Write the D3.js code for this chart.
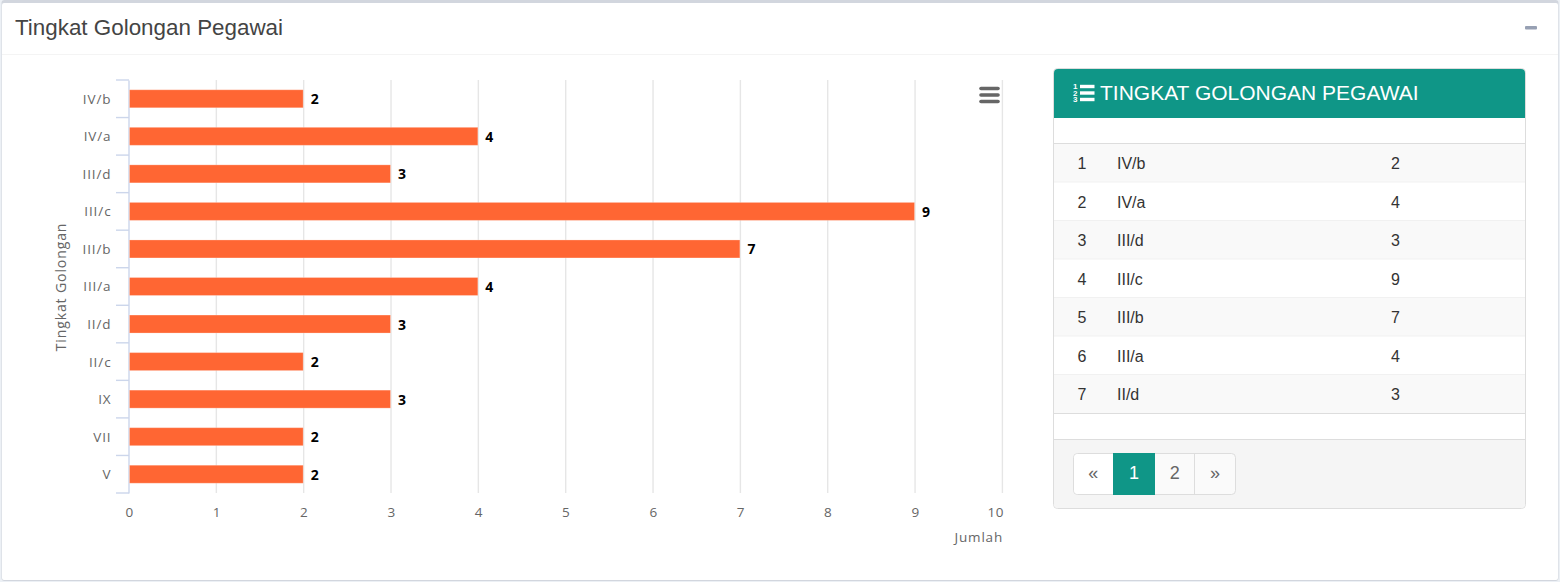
<!DOCTYPE html>
<html><head><meta charset="utf-8">
<script src="https://cdn.jsdelivr.net/npm/d3@7/dist/d3.min.js"></script>
<style>
html,body{margin:0;padding:0;background:#ecf0f5;overflow:hidden}
svg{display:block}
.ch{font-family:"Open Sans",sans-serif}
.ui{font-family:"Liberation Sans",Arial,sans-serif}
</style></head><body>
<svg id="c" width="1560" height="582"></svg>
<script>
const categories=["IV/b","IV/a","III/d","III/c","III/b","III/a","II/d","II/c","IX","VII","V"];
const values=[2,4,3,9,7,4,3,2,3,2,2];
const xTicks=[0,1,2,3,4,5,6,7,8,9,10];
const tableRowCount=7;
const pageLabels=["«","1","2","»"];
const panelTitle="Tingkat Golongan Pegawai";
const tableTitle="TINGKAT GOLONGAN PEGAWAI";
const xAxisTitle="Jumlah", yAxisTitle="Tingkat Golongan";

const svg=d3.select("#c");
// outer box
svg.append("rect").attr("x",0).attr("y",0).attr("width",1560).attr("height",582).attr("fill","#ecf0f5");
svg.append("rect").attr("x",1.5).attr("y",0).attr("width",1557).attr("height",581).attr("rx",3).attr("fill","#d2d6de");
svg.append("rect").attr("x",2).attr("y",3).attr("width",1556).attr("height",577).attr("rx",2).attr("fill","#fff");
svg.append("line").attr("x1",2).attr("x2",1558).attr("y1",54.5).attr("y2",54.5).attr("stroke","#f4f4f4");
svg.append("text").attr("class","ui").attr("x",15).attr("y",35).attr("font-size",22.4).attr("fill","#444").text(panelTitle);
svg.append("rect").attr("x",1525).attr("y",26).attr("width",12).attr("height",3.5).attr("rx",1).attr("fill","#97a0b3");

// chart
const x=d3.scaleLinear().domain([0,10]).range([129,1002.4]);
const y=d3.scaleBand().domain(categories).range([80,493]);
const g=svg.append("g").attr("class","ch");
g.append("g").selectAll("line").data(xTicks.slice(1)).join("line")
 .attr("x1",d=>x(d)).attr("x2",d=>x(d)).attr("y1",80).attr("y2",493).attr("stroke","#e6e6e6").attr("stroke-width",1.4);
const yAxis=d3.axisLeft(y).tickSize(0).tickPadding(17);
const ya=g.append("g").attr("transform","translate(128.5,0.6)").call(yAxis);
ya.select(".domain").attr("stroke","#ccd6eb").attr("stroke-width",1.4).attr("transform","translate(0,-0.6)");
ya.selectAll("text").attr("font-size",13.5).attr("letter-spacing",.9).attr("fill","#666").attr("font-family","Open Sans");
g.append("g").selectAll("line").data(d3.range(categories.length+1)).join("line")
 .attr("x1",116).attr("x2",129).attr("y1",i=>80+i*y.step()).attr("y2",i=>80+i*y.step()).attr("stroke","#ccd6eb").attr("stroke-width",1.4);
const xa=g.append("g").attr("transform","translate(0,493)").call(d3.axisBottom(x).tickValues(xTicks).tickFormat(d3.format("d")).tickSize(0).tickPadding(14));
xa.select(".domain").remove();
xa.selectAll("text").attr("font-size",13.5).attr("fill","#666").attr("font-family","Open Sans").attr("letter-spacing",.5)
 .attr("text-anchor",d=>d===10?"end":"middle").attr("dx",d=>d===10?1:0);
const barH=18;
g.append("g").selectAll("rect").data(values).join("rect")
 .attr("x",x(0)+.5).attr("width",d=>x(d)-x(0)-1)
 .attr("y",(d,i)=>y(categories[i])+y.bandwidth()/2-barH/2).attr("height",barH)
 .attr("fill","#ff6633").attr("stroke","#fff").attr("stroke-opacity",.25);
g.append("g").selectAll("text").data(values).join("text")
 .attr("x",d=>x(d)+7).attr("y",(d,i)=>y(categories[i])+y.bandwidth()/2+5.5)
 .attr("font-size",14).attr("font-weight","bold").attr("fill","#000").text(d=>d);
g.append("text").attr("x",1003).attr("y",542).attr("text-anchor","end").attr("font-size",13.5).attr("letter-spacing",.8).attr("fill","#666").text(xAxisTitle);
g.append("text").attr("transform","translate(66,287) rotate(-90)").attr("text-anchor","middle").attr("font-size",14).attr("letter-spacing",.9).attr("fill","#666").text(yAxisTitle);
// hamburger
g.append("g").selectAll("line").data([0,1,2]).join("line")
 .attr("x1",981).attr("x2",998).attr("y1",i=>88.5+i*6.5).attr("y2",i=>88.5+i*6.5)
 .attr("stroke","#666").attr("stroke-width",3.6).attr("stroke-linecap","round");

// table panel
const t=svg.append("g").attr("class","ui");
t.append("rect").attr("x",1053.5).attr("y",68.5).attr("width",472).attr("height",440).attr("rx",4).attr("fill","#fff").attr("stroke","#ddd");
t.append("path").attr("d","M1054 118V73a4 4 0 0 1 4-4H1521a4 4 0 0 1 4 4V118Z").attr("fill","#0f9687");
const iconY=[86.5,93,99.5];
t.append("g").selectAll("rect").data(iconY).join("rect").attr("x",1080).attr("y",d=>d-1.7).attr("width",14.5).attr("height",3.4).attr("fill","#fff");
t.append("g").selectAll("text").data(["1","2","3"]).join("text").attr("x",1073).attr("y",(d,i)=>iconY[i]+2.5).attr("font-size",8).attr("font-weight","bold").attr("fill","#fff").text(d=>d);
t.append("text").attr("x",1100).attr("y",99.5).attr("font-size",21).attr("fill","#fff").text(tableTitle);
const rowH=38.5;
const rows=categories.slice(0,tableRowCount).map((c,i)=>({n:i+1,c,v:values[i]}));
const r=t.append("g").selectAll("g").data(rows).join("g").attr("transform",(d,i)=>`translate(0,${143.5+i*rowH})`);
r.append("rect").attr("x",1054).attr("width",471).attr("height",rowH).attr("fill",(d,i)=>i%2?"#fff":"#f9f9f9");
r.append("line").attr("x1",1054).attr("x2",1525).attr("y1",.0).attr("y2",.0).attr("stroke",(d,i)=>i?"#f1f1f1":"#ddd");
[["n",1077.5],["c",1117],["v",1391]].forEach(([k,px])=>{
 r.append("text").attr("x",px).attr("y",25.6).attr("font-size",16).attr("fill","#333").text(d=>d[k]);
});
t.append("line").attr("x1",1054).attr("x2",1525).attr("y1",413.5).attr("y2",413.5).attr("stroke","#ddd");
t.append("path").attr("d","M1054 439.5H1525V504a4 4 0 0 1-4 4H1058a4 4 0 0 1-4-4Z").attr("fill","#f5f5f5");
t.append("line").attr("x1",1054).attr("x2",1525).attr("y1",439.5).attr("y2",439.5).attr("stroke","#ddd");
// pagination
const pageEdges=[1073.5,1113,1155,1194.5,1235.5];
t.append("rect").attr("x",1073.5).attr("y",453.5).attr("width",162).attr("height",41).attr("rx",4).attr("fill","#fafafa").attr("stroke","#ddd");
t.append("path").attr("d","M1113 454H1078a4 4 0 0 0-4 4V490a4 4 0 0 0 4 4H1113Z").attr("fill","#fff");
t.append("rect").attr("x",1113).attr("y",453).attr("width",42).attr("height",42).attr("fill","#0f9687");
t.append("line").attr("x1",1194.5).attr("x2",1194.5).attr("y1",454).attr("y2",494).attr("stroke","#ddd");
t.append("g").selectAll("text").data(pageLabels).join("text")
 .attr("x",(d,i)=>(pageEdges[i]+pageEdges[i+1])/2).attr("y",479).attr("text-anchor","middle").attr("font-size",18)
 .attr("fill",(d,i)=>i==1?"#fff":"#666").text(d=>d);
</script>
</body></html>
